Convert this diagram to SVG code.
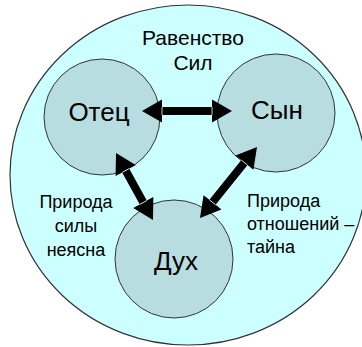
<svg xmlns="http://www.w3.org/2000/svg" width="362" height="347" viewBox="0 0 362 347">
<style>
.outer{fill:#ccffff;stroke:#333;stroke-width:1.2}
.node{fill:#b8dde0;stroke:#333;stroke-width:1}
.big{font-family:"Liberation Sans",Arial,sans-serif;font-size:26px;fill:#000;text-anchor:middle}
.lbl{font-family:"Liberation Sans",Arial,sans-serif;font-size:18px;fill:#000}
.ttl{font-family:"Liberation Sans",Arial,sans-serif;font-size:21px;fill:#000;text-anchor:middle}
.arr{fill:#000;stroke:none}
.sep{stroke:#fff;stroke-width:0.8}
</style>
<defs>
<path id="a90" d="M0,0 L20,-11.5 L20,-4 L70,-4 L70,-11.5 L90,0 L70,11.5 L70,4 L20,4 L20,11.5 Z"/>
<path id="a76" d="M0,0 L20,-11.5 L20,-4 L56.5,-4 L56.5,-11.5 L76.5,0 L56.5,11.5 L56.5,4 L20,4 L20,11.5 Z"/>
<path id="a91" d="M0,0 L20,-11.5 L20,-4 L71,-4 L71,-11.5 L91,0 L71,11.5 L71,4 L20,4 L20,11.5 Z"/>
</defs>
<g id="background">
<ellipse class="outer" cx="188" cy="175" rx="178" ry="170"/>
<text class="ttl" x="193" y="45">Равенство</text>
<text class="ttl" x="193" y="70">Сил</text>
<text class="lbl" x="76" y="208" text-anchor="middle">Природа</text>
<text class="lbl" x="76" y="232" text-anchor="middle">силы</text>
<text class="lbl" x="76" y="256" text-anchor="middle">неясна</text>
<text class="lbl" x="247" y="207">Природа</text>
<text class="lbl" x="247" y="230">отношений –</text>
<text class="lbl" x="247" y="253">тайна</text>
</g>
<g id="otec">
<circle class="node" cx="102" cy="117" r="58"/>
<text class="big" x="99" y="121">Отец</text>
</g>
<g id="syn">
<circle class="node" cx="276" cy="113" r="59"/>
<text class="big" x="277" y="119">Сын</text>
</g>
<g id="dukh">
<circle class="node" cx="174" cy="259" r="59"/>
<text class="big" x="176" y="270">Дух</text>
</g>
<g id="connectors">
<g transform="translate(142,111)">
<use href="#a90" class="arr"/>
<line class="sep" x1="20" y1="-4" x2="20" y2="4"/>
<line class="sep" x1="70" y1="-4" x2="70" y2="4"/>
</g>
<g transform="translate(116,153) rotate(61.1)">
<use href="#a76" class="arr"/>
<line class="sep" x1="20" y1="-4" x2="20" y2="4"/>
<line class="sep" x1="56.5" y1="-4" x2="56.5" y2="4"/>
</g>
<g transform="translate(257,147) rotate(128.8)">
<use href="#a91" class="arr"/>
<line class="sep" x1="20" y1="-4" x2="20" y2="4"/>
<line class="sep" x1="71" y1="-4" x2="71" y2="4"/>
</g>
</g>
</svg>
